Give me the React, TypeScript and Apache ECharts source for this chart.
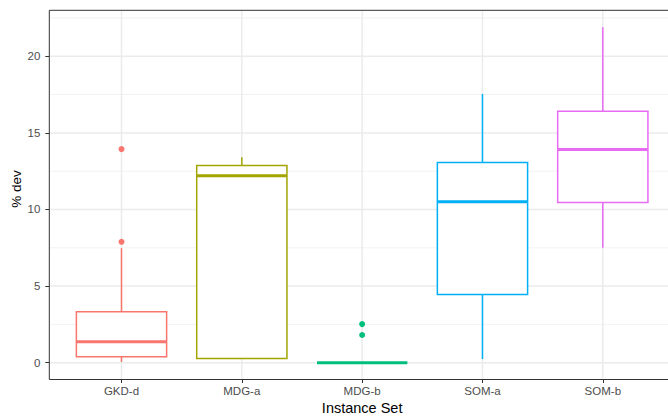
import React, { useEffect, useRef } from 'react';
import * as echarts from 'echarts';

const categories = ['GKD-d', 'MDG-a', 'MDG-b', 'SOM-a', 'SOM-b'];
const colors = ['#F8766D', '#A3A500', '#00BF7D', '#00B0F6', '#E76BF3'];
// box statistics per category
const lowerWhisker = [0.05, 0.28, 0, 0.24, 7.5];
const q1 = [0.39, 0.28, 0, 4.46, 10.46];
const median = [1.37, 12.2, 0, 10.5, 13.91];
const q3 = [3.33, 12.87, 0, 13.06, 16.41];
const upperWhisker = [7.48, 13.41, 0, 17.54, 21.89];
// outliers: [category index, value]
const outliers = [
  [0, 13.94],
  [0, 7.89],
  [2, 2.52],
  [2, 1.81],
];
const yMajorTicks = [0, 5, 10, 15, 20];
const yMinorTicks = [2.5, 7.5, 12.5, 17.5, 22.5];
const xTicks = [0, 1, 2, 3, 4];

const FONT = '"Liberation Sans", Arial, Helvetica, sans-serif';

export default function App() {
  const ref = useRef<HTMLDivElement>(null);
  useEffect(() => {
    if (!ref.current) return;
    const chart = echarts.init(ref.current, null, { renderer: 'svg' });

    const boxData = categories.map((_, i) => [i, lowerWhisker[i], q1[i], median[i], q3[i], upperWhisker[i]]);
    const gridData: number[][] = [
      ...yMajorTicks.map((v) => [0, v]),
      ...yMinorTicks.map((v) => [1, v]),
      ...xTicks.map((v) => [2, v]),
    ];

    chart.setOption({
      animation: false,
      backgroundColor: '#ffffff',
      textStyle: { fontFamily: FONT },
      grid: {
        left: 49.3,
        top: 10.3,
        right: -7,
        bottom: 36.5,
        containLabel: false,
        outerBoundsMode: 'none',
        show: true,
        borderColor: '#333333',
        borderWidth: 1,
        backgroundColor: 'transparent',
      },
      xAxis: {
        type: 'value',
        min: -0.6,
        max: 4.6,
        name: 'Instance Set',
        nameLocation: 'middle',
        nameGap: 20.5,
        nameMoveOverlap: false,
        nameTextStyle: { fontSize: 14.5, color: '#000000', fontFamily: FONT },
        axisLine: { show: false, onZero: false },
        splitLine: { show: false },
        axisTick: { show: true, customValues: xTicks, length: 3.5, lineStyle: { color: '#333333', width: 1 } },
        axisLabel: {
          customValues: xTicks,
          formatter: (v: number) => categories[Math.round(v)] ?? '',
          fontSize: 11.5,
          color: '#4d4d4d',
          margin: 5,
          fontFamily: FONT,
        },
      },
      yAxis: {
        type: 'value',
        min: -1.095,
        max: 23.0,
        name: '% dev',
        nameLocation: 'middle',
        nameRotate: 90,
        nameGap: 26,
        nameMoveOverlap: false,
        nameTextStyle: { fontSize: 13.5, color: '#000000', fontFamily: FONT, padding: [0, 0, 0, 12] },
        axisLine: { show: false, onZero: false },
        splitLine: { show: false },
        axisTick: { show: true, customValues: yMajorTicks, length: 4, lineStyle: { color: '#333333', width: 1 } },
        axisLabel: {
          customValues: yMajorTicks,
          fontSize: 11.5,
          color: '#4d4d4d',
          margin: 9,
          fontFamily: FONT,
        },
      },
      series: [
        {
          type: 'custom',
          z: 1,
          silent: true,
          data: gridData,
          renderItem: (params: any, api: any) => {
            const kind = api.value(0);
            const v = api.value(1);
            const cs = params.coordSys;
            if (kind === 2) {
              const x = api.coord([v, 0])[0];
              return {
                type: 'line',
                shape: { x1: x, y1: cs.y + 1, x2: x, y2: cs.y + cs.height - 1 },
                style: { stroke: '#ebebeb', lineWidth: 1.5 },
              };
            }
            const y = api.coord([0, v])[1];
            return {
              type: 'line',
              shape: { x1: cs.x + 1, y1: y, x2: cs.x + cs.width, y2: y },
              style: { stroke: kind === 0 ? '#ebebeb' : '#f2f2f2', lineWidth: kind === 0 ? 1.5 : 1 },
            };
          },
        },
        {
          type: 'custom',
          z: 3,
          silent: true,
          data: boxData,
          renderItem: (params: any, api: any) => {
            const i = api.value(0);
            const lo = api.value(1);
            const b1 = api.value(2);
            const md = api.value(3);
            const b3 = api.value(4);
            const hi = api.value(5);
            const cx = api.coord([i, md])[0];
            const bw = api.size([0.75, 0])[0];
            const yLo = api.coord([i, lo])[1];
            const yQ1 = api.coord([i, b1])[1];
            const yMd = api.coord([i, md])[1];
            const yQ3 = api.coord([i, b3])[1];
            const yHi = api.coord([i, hi])[1];
            const color = colors[i];
            const lw = 1.5;
            return {
              type: 'group',
              children: [
                {
                  type: 'line',
                  shape: { x1: cx, y1: yQ3, x2: cx, y2: yHi },
                  style: { stroke: color, lineWidth: lw },
                },
                {
                  type: 'line',
                  shape: { x1: cx, y1: yQ1, x2: cx, y2: yLo },
                  style: { stroke: color, lineWidth: lw },
                },
                {
                  type: 'rect',
                  shape: { x: cx - bw / 2, y: yQ3, width: bw, height: yQ1 - yQ3 },
                  style: { fill: '#ffffff', stroke: color, lineWidth: lw },
                },
                {
                  type: 'line',
                  shape: { x1: cx - bw / 2, y1: yMd, x2: cx + bw / 2, y2: yMd },
                  style: { stroke: color, lineWidth: 3 },
                },
              ],
            };
          },
        },
        {
          type: 'scatter',
          z: 4,
          silent: true,
          symbol: 'circle',
          symbolSize: 6,
          data: outliers,
          itemStyle: {
            color: (p: any) => colors[p.value[0]],
            opacity: 1,
          },
        },
      ],
    });
    return () => chart.dispose();
  }, []);
  return <div ref={ref} style={{ position: 'fixed', left: 0, top: 0, width: 668, height: 416 }} />;
}
